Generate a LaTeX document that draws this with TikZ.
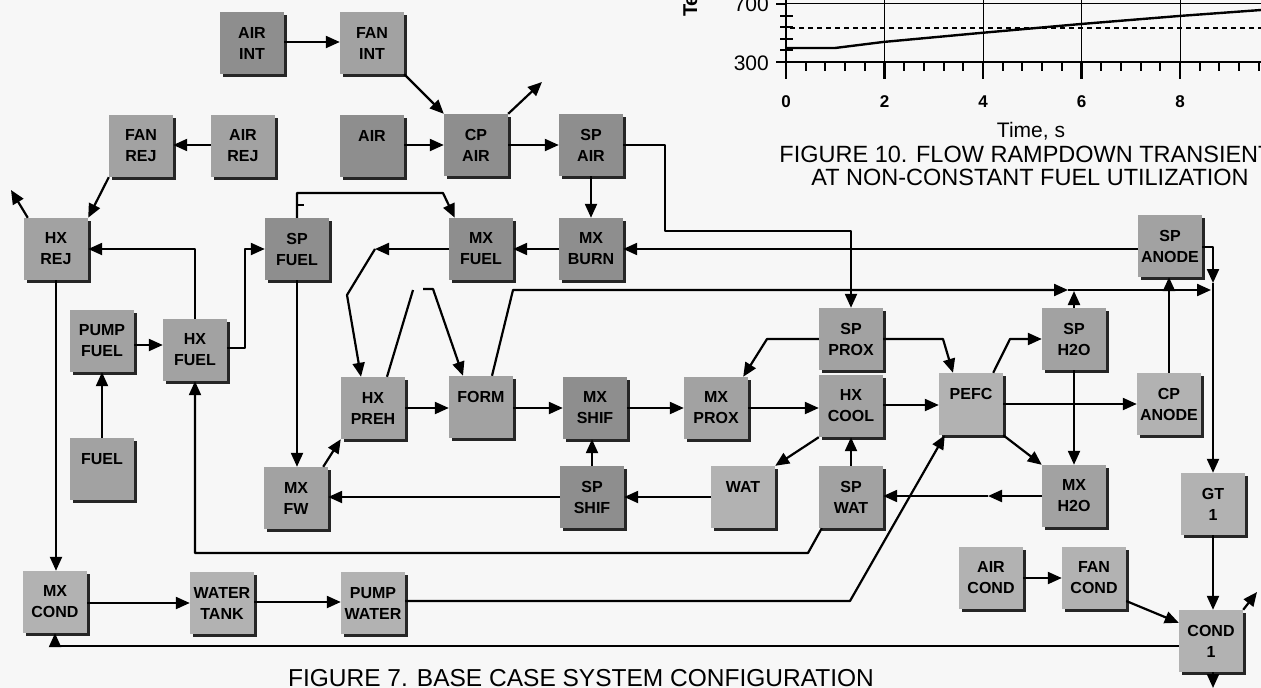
\documentclass[tikz,border=0pt]{standalone}
\usepackage{fontspec}
\setmainfont{Liberation Sans}
\usetikzlibrary{arrows.meta,shadows,calc}
\definecolor{bg}{HTML}{F7F7F7}
\definecolor{boxA}{HTML}{A2A2A2}
\definecolor{boxB}{HTML}{8E8E8E}
\definecolor{boxC}{HTML}{B2B2B2}
\tikzset{
  blk/.style={fill=boxA, minimum width=64pt, minimum height=62pt, inner sep=0pt,
    align=center, font=\fontsize{16}{21}\selectfont\bfseries,
    drop shadow={shadow xshift=2.5pt, shadow yshift=-2.5pt, fill=black!85, opacity=1}},
  dk/.style={fill=boxB},
  lt/.style={fill=boxC},
  ln/.style={line width=2.2pt, line join=round},
  arr/.style={ln, -{Triangle[length=14pt,width=12pt]}},
  grid/.style={line width=1pt},
  axis/.style={line width=2.4pt},
  tick/.style={line width=2pt},
  caption/.style={inner sep=0pt, anchor=base, font=\fontsize{24.5}{24.5}\selectfont},
  capsm/.style={inner sep=0pt, anchor=base, font=\fontsize{23.5}{23.5}\selectfont},
}
\begin{document}
\begin{tikzpicture}[x=1pt,y=-1pt]
\useasboundingbox (0,0) rectangle (1261,688);
\fill[bg] (0,0) rectangle (1261,688);
\clip (0,0) rectangle (1261,688);

% ---------------- chart (figure 10 fragment) ----------------
\draw[grid] (786,3) -- (1261,3);
\foreach \k in {2,4,6,8} {\draw[grid] ({786+49.25*\k},62) -- ({786+49.25*\k},-2);}
\draw[line width=2.4pt, dash pattern=on 5pt off 4pt] (790,28) -- (1261,28);
\draw[line width=2.4pt, line join=round] (786,48) -- (835,48) -- (883,42) -- (980,33) -- (1081,24) -- (1179,16) -- (1261,10);
\draw[axis] (786,-2) -- (786,79);
\draw[axis] (776,62) -- (1261,62);
\draw[axis] (776,4) -- (786,4);
\foreach \yy in {15.6,27.2,38.8,50.4} {\draw[tick] (780,\yy) -- (793,\yy);}
\foreach \i in {1,...,24} {\draw[tick] ({786+19.7*\i},62) -- ({786+19.7*\i},71);}
\foreach \k in {0,2,4,6,8} {\draw[axis] ({786+49.25*\k},62) -- ({786+49.25*\k},79);}
\foreach \k in {0,2,4,6,8} {\node[inner sep=0pt, anchor=base, font=\fontsize{17}{17}\selectfont\bfseries] (xl\k) at ({786+49.25*\k},107) {\k};}
\node[inner sep=0pt, anchor=base east, font=\fontsize{21}{21}\selectfont] (y300) at (769,70) {300};
\node[inner sep=0pt, anchor=base east, font=\fontsize{21}{21}\selectfont] (y700) at (769,12) {700};
\node[inner sep=0pt, anchor=base west, rotate=90, font=\fontsize{20}{20}\selectfont\bfseries] (ylab) at (697,17) {Te};
\node[inner sep=0pt, anchor=base, font=\fontsize{21}{21}\selectfont] (tlab) at (1031,137) {Time, s};
\node[capsm] (cap10a) at (1026,162) {FIGURE 10. FLOW RAMPDOWN TRANSIENT};
\node[capsm] (cap10b) at (1030,185) {AT NON-CONSTANT FUEL UTILIZATION};

% ---------------- blocks ----------------
\node[blk,dk] (airint) at (252,43) {AIR\\INT};
\node[blk] (fanint) at (372,43) {FAN\\INT};
\node[blk] (fanrej) at (141,146) {FAN\\REJ};
\node[blk] (airrej) at (243,146) {AIR\\REJ};
\node[blk,dk] (air) at (372,146) {AIR\\\phantom{I}};
\node[blk,dk] (cpair) at (476,145) {CP\\AIR};
\node[blk,dk] (spair) at (591,145) {SP\\AIR};
\node[blk] (hxrej) at (56,249) {HX\\REJ};
\node[blk,dk] (spfuel) at (297,249) {SP\\FUEL};
\node[blk,dk] (mxfuel) at (481,249) {MX\\FUEL};
\node[blk,dk] (mxburn) at (591,249) {MX\\BURN};
\node[blk] (spanode) at (1170,246) {SP\\ANODE};
\node[blk] (pumpfuel) at (102,341) {PUMP\\FUEL};
\node[blk] (hxfuel) at (195,350) {HX\\FUEL};
\node[blk] (spprox) at (851,339) {SP\\PROX};
\node[blk] (spho) at (1074,339) {SP\\H2O};
\node[blk] (hxpreh) at (373,408) {HX\\PREH};
\node[blk] (form) at (481,407) {FORM\\\phantom{I}};
\node[blk,dk] (mxshif) at (595,408) {MX\\SHIF};
\node[blk] (mxprox) at (716,408) {MX\\PROX};
\node[blk] (hxcool) at (851,406) {HX\\COOL};
\node[blk,lt] (pefc) at (971,404) {PEFC\\\phantom{I}};
\node[blk,lt] (cpanode) at (1169,404) {CP\\ANODE};
\node[blk] (fuel) at (102,469) {FUEL\\\phantom{I}};
\node[blk] (mxfw) at (296,498) {MX\\FW};
\node[blk,dk] (spshif) at (592,497) {SP\\SHIF};
\node[blk,lt] (wat) at (743,497) {WAT\\\phantom{I}};
\node[blk] (spwat) at (851,497) {SP\\WAT};
\node[blk] (mxho) at (1074,496) {MX\\H2O};
\node[blk,lt] (gt) at (1213,504) {GT\\1};
\node[blk,lt] (aircond) at (991,578) {AIR\\COND};
\node[blk,lt] (fancond) at (1094,578) {FAN\\COND};
\node[blk,lt] (cond) at (1211,641) {COND\\1};
\node[blk,lt] (mxcond) at (55,602) {MX\\COND};
\node[blk,lt] (wtank) at (222,603) {WATER\\TANK};
\node[blk,lt] (pwater) at (373,603) {PUMP\\WATER};

% ---------------- free ends ----------------
\coordinate (ex1) at (542,82);
\coordinate (ex2) at (11,190);
\coordinate (ex3) at (1257,592);
\coordinate (ex4) at (1213,688);
\coordinate (m1) at (375,249);
\coordinate (m2) at (1068,290);
\coordinate (m3) at (988,496);
\coordinate (m4) at (1213,283);
\coordinate (b1) at (413,290);
\coordinate (b2) at (423,289);

% ---------------- connectors ----------------
\draw[arr] (airint.east |- 0,42) -- (fanint.west |- 0,42);
\draw[arr] (fanint.south east) -- (cpair.north west);
\draw[arr] (air.east |- 0,145) -- (cpair.west |- 0,145);
\draw[arr] (cpair.north east) -- (ex1);
\draw[arr] (cpair.east |- 0,145) -- (spair.west |- 0,145);
\draw[arr] (airrej.west |- 0,145) -- (fanrej.east |- 0,145);
\draw[arr] (fanrej.south west) -- (hxrej.north east);
\draw[arr] ($(hxrej.north west)+(4,0)$) -- (ex2);
\draw[arr] (spair.south) -- (mxburn.north);
\draw[arr] (spair.east |- 0,145) -| (665,231) -| (spprox.north);
\draw[arr] (spanode.west |- 0,249) -- (mxburn.east |- 0,249);
\draw[arr] (mxburn.west |- 0,249) -- (mxfuel.east |- 0,249);
\draw[arr] (mxfuel.west |- 0,249) -- (m1);
\draw[arr] (m1) -- (347,295) -- (hxpreh.north -| 361,0);
\draw[arr] (spfuel.north) |- (443,193) -- ($(mxfuel.north west)+(6,0)$);
\draw[line width=1.2pt] (298,205) -- (304,205);
\draw[arr] (hxfuel.north) |- (hxrej.east);
\draw[arr] (hxfuel.east |- 0,348) -| (245,249) -- (spfuel.west |- 0,249);
\draw[arr] (pumpfuel.east |- 0,345) -- (hxfuel.west |- 0,345);
\draw[arr] (fuel.north) -- (pumpfuel.south);
\draw[arr] (hxrej.south) -- (hxrej.south |- mxcond.north);
\draw[arr] (spfuel.south) -- (spfuel.south |- mxfw.north);
\draw[arr] ($(mxfw.north east)+(-5,0)$) -- (hxpreh.south west);
\draw[arr] (hxpreh.east |- 0,408) -- (form.west |- 0,408);
\draw[ln] (hxpreh.north -| 387,0) -- (b1);
\draw[arr] (b2) -- (433,289) -- (form.north -| 463,0);
\draw[arr] (form.north -| 492,0) -- (513,290) -- (m2);
\draw[arr] (m2) -- (1211,290);
\draw[arr] (spanode.east |- 0,247) -| (m4);
\draw[arr] (m4) -- (gt.north);
\draw[arr] (form.east |- 0,408) -- (mxshif.west |- 0,408);
\draw[arr] (mxshif.east |- 0,408) -- (mxprox.west |- 0,408);
\draw[arr] (mxprox.east |- 0,408) -- (hxcool.west |- 0,408);
\draw[arr] (spprox.west |- 0,339) -- (767,339) -- ($(mxprox.north east)+(-5,0)$);
\draw[arr] (spprox.east |- 0,339) -- (943,339) -- (pefc.north -| 953,0);
\draw[arr] (hxcool.east |- 0,405) -- (pefc.west |- 0,405);
\draw[arr] ($(pefc.north east)+(-10,0)$) -- (1010,339) -- (spho.west |- 0,339);
\draw[arr] (pefc.east |- 0,404) -- (cpanode.west |- 0,404);
\draw[arr] (pefc.south east) -- (mxho.north west);
\draw[arr] (spho.south) -- (mxho.north);
\draw[arr] (spho.north) -- (spho.north |- 0,291);
\draw[arr] (cpanode.north) -- (cpanode.north |- spanode.south);
\draw[arr] (mxho.west |- 0,496) -- (m3);
\draw[arr] (m3) -- (spwat.east |- 0,496);
\draw[arr] (spwat.north) -- (spwat.north |- hxcool.south);
\draw[arr] (hxcool.south west) -- (wat.north east);
\draw[arr] (wat.west |- 0,497) -- (spshif.east |- 0,497);
\draw[arr] (spshif.north) -- (spshif.north |- mxshif.south);
\draw[arr] (spshif.west |- 0,497) -- (mxfw.east |- 0,497);
\draw[arr] ($(spwat.south west)+(3,0)$) -- (808,553) -| (hxfuel.south);
\draw[arr] (pwater.east |- 0,601) -- (850,601) -- ($(pefc.south west)+(6,0)$);
\draw[arr] (mxcond.east |- 0,603) -- (wtank.west |- 0,603);
\draw[arr] (wtank.east |- 0,602) -- (pwater.west |- 0,602);
\draw[arr] (cond.west |- 0,646) -| (mxcond.south);
\draw[arr] (gt.south) -- (gt.south |- cond.north);
\draw[arr] (aircond.east |- 0,578) -- (fancond.west |- 0,578);
\draw[arr] (fancond.east |- 0,601) -- ($(cond.north west)+(0,13)$);
\draw[arr] (cond.north east) -- (ex3);
\draw[arr] (cond.south -| 1213,0) -- (ex4);

\node[caption] (cap7) at (581,686) {FIGURE 7. BASE CASE SYSTEM CONFIGURATION};
\end{tikzpicture}
\end{document}
